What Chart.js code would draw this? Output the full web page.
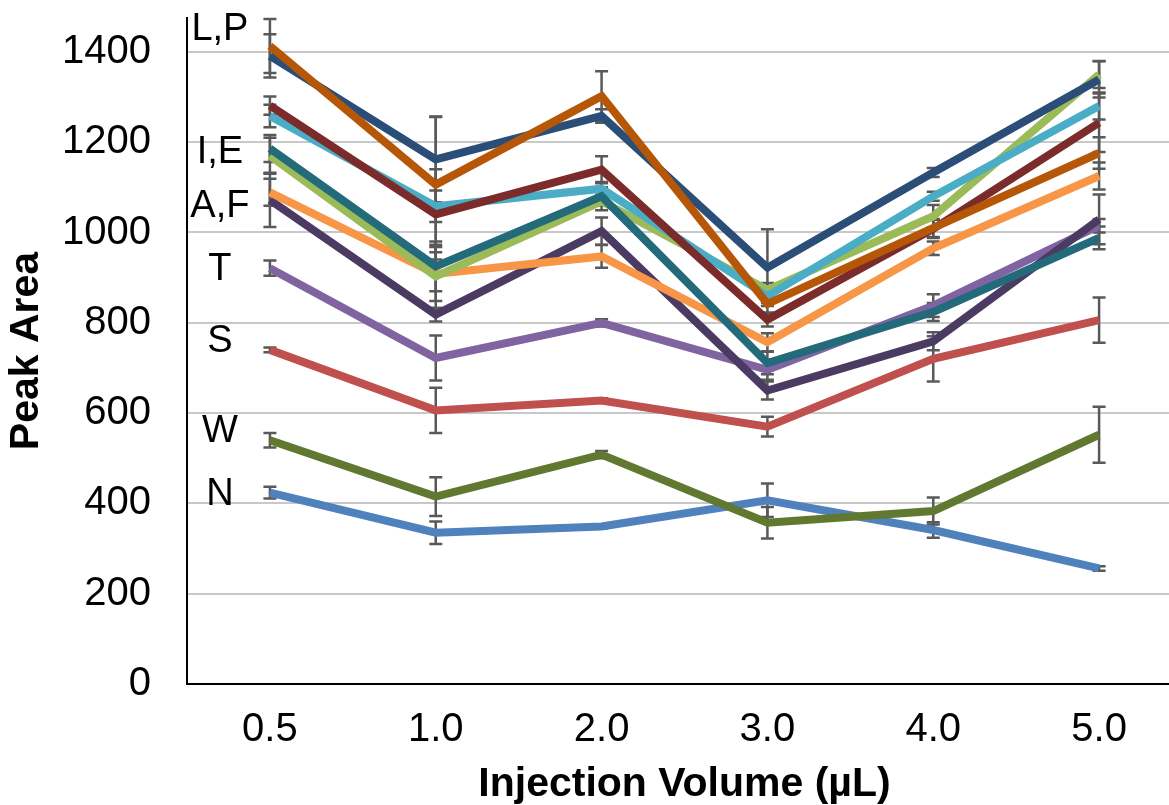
<!DOCTYPE html>
<html>
<head>
<meta charset="utf-8">
<script src="https://cdn.jsdelivr.net/npm/chart.js@4/dist/chart.umd.min.js"></script>
<style>
  body { margin: 0; overflow: hidden; background: #fff; }
  canvas { display: block; }
</style>
</head>
<body>
<canvas id="chartCanvas" width="1190" height="805"></canvas>
<script>
// DATA
const volumes = ['0.5', '1.0', '2.0', '3.0', '4.0', '5.0'];
const yTicks = [0, 200, 400, 600, 800, 1000, 1200, 1400];

const seriesN = [424, 335, 349, 407, 341, 256];
const errN = [13, 25, 4, 37, 17, 5];
const seriesW = [540, 415, 508, 357, 383, 552];
const errW = [16, 43, 8, 35, 30, 62];
const seriesS = [740, 606, 628, 570, 720, 806];
const errS = [5, 50, 5, 22, 50, 50];
const seriesT = [921, 722, 800, 696, 838, 1015];
const errT = [17, 50, 8, 22, 25, 15];
const seriesA = [1072, 818, 1003, 650, 759, 1029];
const errA = [60, 15, 30, 20, 20, 55];
const seriesF = [1089, 908, 947, 757, 965, 1125];
const errF = [30, 60, 25, 20, 15, 30];
const seriesI = [1170, 903, 1069, 873, 1036, 1350];
const errI = [40, 70, 20, 15, 25, 30];
const seriesE = [1186, 925, 1080, 711, 824, 988];
const errE = [30, 55, 20, 25, 20, 25];
const series11 = [1258, 1058, 1097, 859, 1080, 1280];
const err11 = [25, 35, 15, 15, 10, 30];
const series12 = [1281, 1040, 1139, 807, 1008, 1243];
const err12 = [20, 100, 30, 15, 20, 65];
const seriesL = [1391, 1162, 1258, 922, 1133, 1339];
const errL = [48, 95, 15, 85, 10, 40];
const seriesP = [1413, 1106, 1302, 842, 1010, 1176];
const errP = [60, 150, 55, 20, 20, 35];

// side labels next to the first point (text, y value)
const tagText = ['L,P', 'I,E', 'A,F', 'T', 'S', 'W', 'N'];
const tagValue = [1450, 1177, 1057, 918, 758, 559, 419];

const FONT = "'Liberation Sans', Arial, sans-serif";

function line(label, data, err, color) {
  return {
    label: label,
    data: data,
    err: err,
    borderColor: color,
    backgroundColor: color,
    borderWidth: 8,
    pointRadius: 0,
    tension: 0,
    fill: false
  };
}

// first one drawn on top
const datasets = [
  line('P', seriesP, errP, '#b65708'),
  line('L', seriesL, errL, '#2b4e78'),
  line('series 12', series12, err12, '#7a2b2a'),
  line('E', seriesE, errE, '#236a7a'),
  line('series 11', series11, err11, '#4bacc6'),
  line('I', seriesI, errI, '#9bbb59'),
  line('F', seriesF, errF, '#f79646'),
  line('A', seriesA, errA, '#4b3b63'),
  line('T', seriesT, errT, '#8064a2'),
  line('S', seriesS, errS, '#c0504d'),
  line('W', seriesW, errW, '#60782f'),
  line('N', seriesN, errN, '#4f81bd')
];

// ERROR BARS
const errorBars = {
  id: 'errorBars',
  beforeDatasetsDraw(chart) {
    const ctx = chart.ctx;
    const xs = chart.scales.x, ys = chart.scales.y;
    ctx.save();
    ctx.strokeStyle = '#595959';
    ctx.lineWidth = 2.5;
    chart.data.datasets.forEach(ds => {
      ds.err.forEach((e, i) => {
        if (!e) return;
        const px = xs.getPixelForValue(i);
        const top = ys.getPixelForValue(ds.data[i] + e);
        const bot = ys.getPixelForValue(ds.data[i] - e);
        ctx.beginPath();
        ctx.moveTo(px, top); ctx.lineTo(px, bot);
        ctx.moveTo(px - 6.5, top); ctx.lineTo(px + 6.5, top);
        ctx.moveTo(px - 6.5, bot); ctx.lineTo(px + 6.5, bot);
        ctx.stroke();
      });
    });
    ctx.restore();
  }
};

// L,P ... N tags
const sideTags = {
  id: 'sideTags',
  afterDraw(chart) {
    const ctx = chart.ctx;
    const xs = chart.scales.x, ys = chart.scales.y;
    const px = xs.getPixelForValue(0) -  50;
    ctx.save();
    ctx.fillStyle = '#000';
    ctx.font = '38px ' + FONT;
    ctx.textAlign = 'center';
    ctx.textBaseline = 'middle';
    tagText.forEach((t, i) => {
      ctx.fillText(t, px, ys.getPixelForValue(tagValue[i]));
    });
    ctx.restore();
  }
};

const config = {
  type: 'line',
  data: { labels: volumes, datasets: datasets },
  options: {
    responsive: false,
    animation: false,
    layout: { padding: { top: 18, right: 8, left: 0, bottom: 0 } },
    plugins: { legend: { display: false }, tooltip: { enabled: false } },
    scales: {
      x: {
        offset: true,
        grid: { display: false, drawTicks: false },
        border: { color: '#000', width: 2 },
        ticks: { color: '#000', padding: 22, font: { family: FONT, size: 40 } },
        title: {
          display: true,
          text: 'Injection Volume (µL)',
          color: '#000',
          padding: { top: 0, bottom: 0 },
          font: { family: FONT, size: 41, weight: 'bold', lineHeight: 1 }
        },
        afterFit(scale) { scale.height = 121; }
      },
      y: {
        min: 0,
        max: 1475,
        grid: {
          color: '#c8c8c8',
          lineWidth: 2,
          drawTicks: true,
          tickLength: 36,
          tickColor: 'rgba(0,0,0,0)'
        },
        border: { color: '#000', width: 2 },
        ticks: {
          color: '#000',
          padding: 0,
          font: { family: FONT, size: 40, lineHeight: 0.9 },
          callback: v => String(v)
        },
        afterBuildTicks(scale) {
          scale.ticks = yTicks.map(v => ({ value: v }));
        },
        title: {
          display: true,
          text: 'Peak Area',
          color: '#000',
          padding: { top: 6, bottom: 0 },
          font: { family: FONT, size: 41, weight: 'bold', lineHeight: 1 }
        },
        afterFit(scale) { scale.width = 187; }
      }
    }
  },
  plugins: [errorBars, sideTags]
};

const myChart = new Chart(document.getElementById('chartCanvas'), config);
</script>
</body>
</html>
